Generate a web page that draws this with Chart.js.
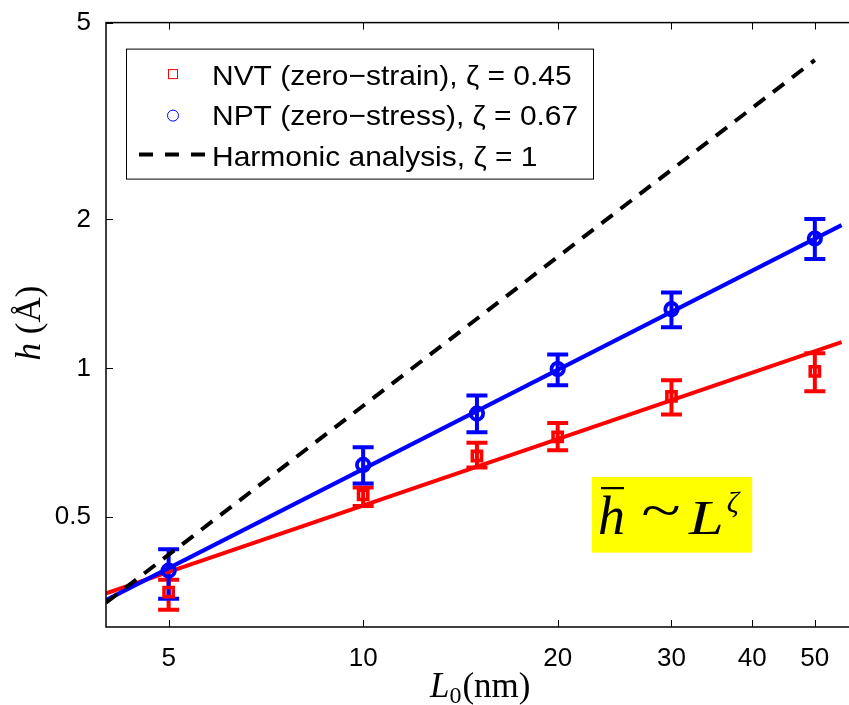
<!DOCTYPE html>
<html>
<head>
<meta charset="utf-8">
<title>Roughness scaling</title>
<script src="https://cdn.jsdelivr.net/npm/chart.js@4"></script>
<style>
  html, body { margin: 0; padding: 0; background: #fff; overflow: hidden; }
  #wrap { width: 880px; height: 705px; }
</style>
</head>
<body>
<div id="wrap"><canvas id="roughChart" width="880" height="705"></canvas></div>
<script>
// sample lengths L0 (nm)
const lengths = [5, 10, 15, 20, 30, 50];

// NVT (zero-strain) mean roughness with error bar limits (Å)
const nvtH    = [0.353, 0.555, 0.665, 0.727, 0.878, 0.986];
const nvtLow  = [0.325, 0.527, 0.630, 0.683, 0.807, 0.899];
const nvtHigh = [0.374, 0.574, 0.707, 0.775, 0.946, 1.073];

// NPT (zero-stress)
const nptH    = [0.390, 0.638, 0.810, 0.997, 1.317, 1.830];
const nptLow  = [0.342, 0.585, 0.743, 0.924, 1.211, 1.663];
const nptHigh = [0.431, 0.693, 0.881, 1.066, 1.423, 2.003];

// power-law fits (end points) and harmonic prediction
const fitL = [4, 55];
const nvtFit = [0.351, 1.130];
const nptFit = [0.340, 1.948];
const harmonicL = [4, 50];
const harmonicH = [0.336, 4.20];

const xTicks = [5, 10, 20, 30, 40, 50];
const yTicks = [0.5, 1, 2, 5];

const legendLabels = [
    'NVT (zero\u2212strain), \u03b6 = 0.45',
    'NPT (zero\u2212stress), \u03b6 = 0.67',
    'Harmonic analysis, \u03b6 = 1'
];

const sans = '"Liberation Sans", Arial, Helvetica, sans-serif';
const serif = '"Liberation Serif", "Times New Roman", serif';
const RED = '#ff0000';
const BLUE = '#0000ff';

function pts(xs, ys) {
    return xs.map((x, i) => ({ x: x, y: ys[i] }));
}

// vertical error bars with caps, drawn under the markers
const errorBars = {
    id: 'errorBars',
    beforeDatasetsDraw(chart) {
        const { ctx, scales: { x, y } } = chart;
        chart.data.datasets.forEach(ds => {
            if (!ds.errLow) return;
            ctx.save();
            ctx.strokeStyle = ds.borderColor;
            ctx.lineWidth = 4;
            ds.data.forEach((p, i) => {
                const px = x.getPixelForValue(p.x);
                const lo = y.getPixelForValue(ds.errLow[i]);
                const hi = y.getPixelForValue(ds.errHigh[i]);
                ctx.beginPath();
                ctx.moveTo(px, lo); ctx.lineTo(px, hi);
                ctx.moveTo(px - 10.5, lo); ctx.lineTo(px + 10.5, lo);
                ctx.moveTo(px - 10.5, hi); ctx.lineTo(px + 10.5, hi);
                ctx.stroke();
            });
            ctx.restore();
        });
    }
};

// box, inward ticks, legend, annotation and axis titles
const decorations = {
    id: 'decorations',
    afterDraw(chart) {
        const { ctx, chartArea: a, scales: { x, y } } = chart;
        ctx.save();

        // axes box with inward ticks
        ctx.strokeStyle = '#000';
        ctx.lineWidth = 1.5;
        ctx.strokeRect(a.left, a.top, a.right - a.left, a.bottom - a.top);
        ctx.lineWidth = 1;
        ctx.beginPath();
        xTicks.forEach(v => {
            const px = Math.round(x.getPixelForValue(v)) + 0.5;
            ctx.moveTo(px, a.bottom); ctx.lineTo(px, a.bottom - 7);
            ctx.moveTo(px, a.top); ctx.lineTo(px, a.top + 7);
        });
        yTicks.forEach(v => {
            const py = Math.round(y.getPixelForValue(v)) + 0.5;
            ctx.moveTo(a.left, py); ctx.lineTo(a.left + 7, py);
        });
        ctx.stroke();

        // legend
        const bx = a.left + 20.5, by = a.top + 26.5;
        ctx.fillStyle = '#fff';
        ctx.fillRect(bx, by, 467, 130);
        ctx.lineWidth = 1;
        ctx.strokeStyle = '#000';
        ctx.strokeRect(bx, by, 467, 130);

        const mx = a.left + 67;
        ctx.strokeStyle = RED;
        ctx.strokeRect(mx - 4.5, a.top + 47, 9, 9);
        ctx.strokeStyle = BLUE;
        ctx.beginPath();
        ctx.arc(mx, a.top + 93, 5.5, 0, Math.PI * 2);
        ctx.stroke();
        ctx.strokeStyle = '#000';
        ctx.lineWidth = 4;
        ctx.setLineDash([14, 12]);
        ctx.beginPath();
        ctx.moveTo(a.left + 33, a.top + 132);
        ctx.lineTo(a.left + 99, a.top + 132);
        ctx.stroke();
        ctx.setLineDash([]);

        ctx.fillStyle = '#000';
        ctx.font = '28px ' + sans;
        ctx.textBaseline = 'alphabetic';
        ctx.textAlign = 'left';
        legendLabels.forEach((t, i) => {
            ctx.save();
            ctx.translate(a.left + 106, a.top + 62 + i * 40.5);
            ctx.scale(1.07, 1);
            ctx.fillText(t, 0, 0);
            ctx.restore();
        });

        // yellow annotation box, anchored in data units
        const ax0 = x.getPixelForValue(22.6), ax1 = x.getPixelForValue(40);
        const ay0 = y.getPixelForValue(0.603), ay1 = y.getPixelForValue(0.424);
        ctx.fillStyle = '#ffff00';
        ctx.fillRect(ax0, ay0, ax1 - ax0, ay1 - ay0);
        ctx.fillStyle = '#000';
        const base = ay0 + 57;
        ctx.font = 'italic 54px ' + serif;
        ctx.fillText('h', ax0 + 6, base);
        const hw = ctx.measureText('h').width;
        ctx.fillRect(ax0 + 9, ay0 + 10, hw - 4, 2.2);
        // tilde, stretched to the wide math form
        ctx.save();
        ctx.translate(ax0 + 69, base - 5);
        ctx.scale(1.35, 1);
        ctx.font = '54px ' + serif;
        ctx.textAlign = 'center';
        ctx.fillText('~', 0, 0);
        ctx.restore();
        ctx.save();
        ctx.translate(ax0 + 97, base);
        ctx.scale(1.3, 1);
        ctx.font = 'italic 48px ' + serif;
        ctx.fillText('L', 0, 0);
        const lw = ctx.measureText('L').width * 1.3;
        ctx.restore();
        ctx.font = 'italic 30px ' + serif;
        ctx.fillText('\u03b6', ax0 + 97 + lw + 3, base - 22);

        // x title: L0 (nm)
        ctx.font = 'italic 35px ' + serif;
        let tx = 430;
        const ty = 697;
        ctx.fillText('L', tx, ty);
        tx += ctx.measureText('L').width;
        ctx.font = '24px ' + serif;
        ctx.fillText('0', tx, ty + 6);
        tx += ctx.measureText('0').width + 1;
        ctx.font = '35px ' + serif;
        ctx.fillText('(nm)', tx, ty);

        // y title: h (Å), rotated
        ctx.save();
        ctx.translate(40, 323);
        ctx.rotate(-Math.PI / 2);
        ctx.font = 'italic 35px ' + serif;
        const w1 = ctx.measureText('h').width;
        ctx.font = '35px ' + serif;
        const w2 = ctx.measureText(' (\u00c5)').width;
        let sx = -(w1 + w2) / 2;
        ctx.font = 'italic 35px ' + serif;
        ctx.fillText('h', sx, 0);
        ctx.font = '35px ' + serif;
        ctx.fillText(' (\u00c5)', sx + w1, 0);
        ctx.restore();

        ctx.restore();
    }
};

const tickFont = { family: sans, size: 26 };

new Chart(document.getElementById('roughChart'), {
    type: 'scatter',
    data: {
        datasets: [
            {
                label: 'NVT fit',
                data: pts(fitL, nvtFit),
                showLine: true,
                borderColor: RED,
                borderWidth: 4,
                pointRadius: 0,
                order: 4
            },
            {
                label: 'NPT fit',
                data: pts(fitL, nptFit),
                showLine: true,
                borderColor: BLUE,
                borderWidth: 4,
                pointRadius: 0,
                order: 3
            },
            {
                label: legendLabels[0],
                data: pts(lengths, nvtH),
                errLow: nvtLow,
                errHigh: nvtHigh,
                showLine: false,
                pointStyle: 'rect',
                pointRadius: 6.5,
                borderWidth: 3.6,
                borderColor: RED,
                backgroundColor: 'rgba(0,0,0,0)',
                order: 2
            },
            {
                label: legendLabels[1],
                data: pts(lengths, nptH),
                errLow: nptLow,
                errHigh: nptHigh,
                showLine: false,
                pointStyle: 'circle',
                pointRadius: 6.2,
                borderWidth: 3.8,
                borderColor: BLUE,
                backgroundColor: 'rgba(0,0,0,0)',
                order: 1
            },
            {
                label: legendLabels[2],
                data: pts(harmonicL, harmonicH),
                showLine: true,
                borderColor: '#000',
                borderWidth: 4,
                borderDash: [14, 10],
                pointRadius: 0,
                order: 0
            }
        ]
    },
    options: {
        responsive: false,
        animation: false,
        devicePixelRatio: 1,
        layout: { padding: { top: 20, right: 14, left: 0, bottom: 0 } },
        plugins: {
            legend: { display: false },
            tooltip: { enabled: false }
        },
        scales: {
            x: {
                type: 'logarithmic',
                min: 4,
                max: 60,
                grid: { display: false },
                border: { display: false },
                afterBuildTicks: s => { s.ticks = xTicks.map(v => ({ value: v })); },
                afterFit: s => { s.height = 78; },
                ticks: {
                    color: '#000',
                    font: tickFont,
                    padding: 8,
                    autoSkip: false,
                    maxRotation: 0,
                    callback: v => String(v)
                }
            },
            y: {
                type: 'logarithmic',
                min: 0.3,
                max: 5,
                grid: { display: false },
                border: { display: false },
                afterBuildTicks: s => { s.ticks = yTicks.map(v => ({ value: v })); },
                afterFit: s => { s.width = 106; },
                ticks: {
                    color: '#000',
                    font: tickFont,
                    padding: 7,
                    autoSkip: false,
                    callback: v => String(v)
                }
            }
        }
    },
    plugins: [errorBars, decorations]
});
</script>
</body>
</html>
